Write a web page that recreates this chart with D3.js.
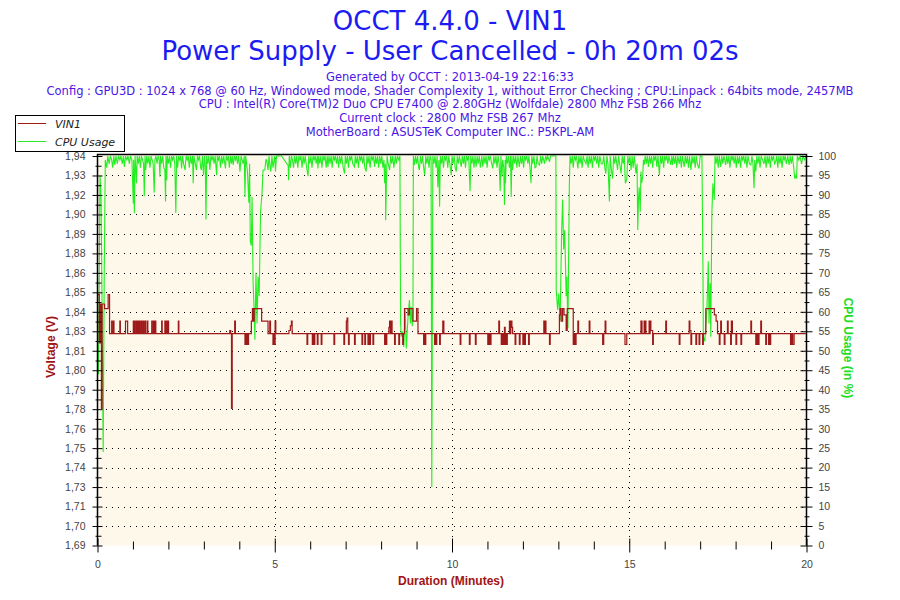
<!DOCTYPE html>
<html>
<head>
<meta charset="utf-8">
<script src="https://cdn.jsdelivr.net/npm/d3@7/dist/d3.min.js"></script>
<style>
  body { margin: 0; background: #ffffff; }
  svg { display: block; }
</style>
</head>
<body>
<svg id="chart" width="900" height="600"></svg>
<script>
/* ----------------------------- chart data ------------------------------ */

const titleLines = ['OCCT 4.4.0 - VIN1', 'Power Supply - User Cancelled - 0h 20m 02s'];

const infoLines = [
  'Generated by OCCT : 2013-04-19 22:16:33',
  'Config : GPU3D : 1024 x 768 @ 60 Hz, Windowed mode, Shader Complexity 1, without Error Checking ; CPU:Linpack : 64bits mode, 2457MB',
  'CPU : Intel(R) Core(TM)2 Duo CPU E7400 @ 2.80GHz (Wolfdale) 2800 Mhz FSB 266 Mhz',
  'Current clock : 2800 Mhz FSB 267 Mhz',
  'MotherBoard : ASUSTeK Computer INC.: P5KPL-AM',
];

const seriesNames = ['VIN1', 'CPU Usage'];

const minuteTicks = [0, 5, 10, 15, 20];
const minuteMinorTicks = [1, 2, 3, 4, 6, 7, 8, 9, 11, 12, 13, 14, 16, 17, 18, 19];

const voltTickLabels = ['1,69', '1,70', '1,71', '1,73', '1,74', '1,75', '1,76', '1,78', '1,79', '1,80', '1,81',
  '1,83', '1,84', '1,85', '1,86', '1,88', '1,89', '1,90', '1,92', '1,93', '1,94'];

const cpuTicks = [0, 5, 10, 15, 20, 25, 30, 35, 40, 45, 50, 55, 60, 65, 70, 75, 80, 85, 90, 95, 100];

// [minute, CPU usage %]
const cpuUsage = [
  [0.00, 52], [0.03, 44], [0.07, 95], [0.10, 90], [0.13, 60], [0.16, 24], [0.19, 70], [0.22, 99],
  [0.26, 97], [0.29, 100], [0.33, 98], [0.36, 100], [0.40, 99], [0.43, 97], [0.46, 100], [0.49, 97.7],
  [0.52, 100], [0.56, 98], [0.59, 100], [0.63, 99], [0.66, 100], [0.70, 98], [0.73, 100], [0.76, 97.2],
  [0.79, 100], [0.83, 99], [0.86, 100], [0.90, 98], [0.93, 100], [0.97, 99], [1.01, 87.8], [1.02, 99],
  [1.04, 85.3], [1.06, 100], [1.08, 97], [1.10, 93], [1.12, 100], [1.15, 98], [1.18, 100], [1.21, 97],
  [1.24, 100], [1.27, 99], [1.30, 98], [1.32, 89.7], [1.34, 100], [1.36, 96.4], [1.39, 100], [1.42, 98],
  [1.45, 100], [1.48, 97], [1.51, 100], [1.54, 99], [1.57, 98], [1.60, 90.6], [1.62, 99], [1.65, 100],
  [1.68, 98], [1.71, 100], [1.74, 99], [1.76, 94.7], [1.78, 100], [1.81, 98], [1.84, 100], [1.87, 97],
  [1.90, 96.4], [1.92, 88.3], [1.93, 100], [1.95, 93.8], [1.97, 100], [2.00, 98], [2.03, 100], [2.06, 97],
  [2.09, 100], [2.12, 99], [2.15, 100], [2.18, 98], [2.21, 85.4], [2.23, 100], [2.26, 97], [2.29, 100],
  [2.32, 99], [2.35, 100], [2.37, 96.8], [2.40, 100], [2.43, 98], [2.47, 96.4], [2.50, 100], [2.53, 99],
  [2.56, 100], [2.59, 97], [2.62, 100], [2.65, 98], [2.68, 100], [2.70, 93], [2.72, 100], [2.76, 98],
  [2.79, 96.4], [2.82, 100], [2.85, 99], [2.88, 100], [2.91, 97], [2.93, 96.4], [2.96, 100], [2.99, 95.1],
  [3.02, 100], [3.04, 98], [3.06, 83.7], [3.08, 100], [3.11, 98], [3.14, 100], [3.17, 96.4], [3.20, 100],
  [3.23, 99], [3.26, 100], [3.29, 98], [3.32, 100], [3.36, 95.1], [3.38, 100], [3.41, 99], [3.44, 100],
  [3.47, 97], [3.50, 100], [3.53, 98], [3.56, 100], [3.61, 96.8], [3.63, 100], [3.66, 99], [3.69, 100],
  [3.72, 97], [3.75, 100], [3.78, 98], [3.80, 100], [3.83, 97.7], [3.86, 100], [3.89, 99], [3.92, 100],
  [3.95, 98], [3.98, 100], [4.02, 96], [4.05, 100], [4.08, 99], [4.11, 98], [4.14, 100], [4.16, 89.5],
  [4.18, 100], [4.20, 98.5], [4.23, 96], [4.27, 88], [4.29, 98], [4.31, 78], [4.34, 77], [4.36, 89.5],
  [4.39, 67.3], [4.42, 60], [4.44, 52.8], [4.47, 70], [4.50, 57], [4.53, 69], [4.56, 64], [4.60, 85.7],
  [4.64, 90.4], [4.67, 96.4], [4.72, 96.4], [4.75, 99], [4.77, 99], [4.81, 96.4], [4.84, 100], [4.86, 98],
  [4.89, 96], [4.92, 100], [4.95, 97], [5.00, 100],
  [5.02, 96], [5.05, 100], [5.10, 100], [5.19, 100], [5.38, 97.5], [5.39, 93.8], [5.41, 100], [5.44, 97],
  [5.47, 100], [5.50, 99], [5.53, 97], [5.56, 100], [5.59, 98], [5.62, 100], [5.65, 97], [5.68, 100],
  [5.71, 99], [5.74, 100], [5.77, 97], [5.80, 100], [5.83, 98], [5.86, 100], [5.90, 97], [5.94, 94.8],
  [5.96, 100], [5.99, 98], [6.02, 100], [6.05, 97], [6.08, 100], [6.11, 99], [6.14, 100], [6.17, 98],
  [6.20, 100], [6.22, 96.8], [6.24, 100], [6.27, 98], [6.30, 100], [6.33, 97], [6.36, 100], [6.39, 99],
  [6.42, 100], [6.45, 97], [6.48, 100], [6.50, 97.2], [6.53, 100], [6.56, 98], [6.59, 100], [6.62, 97],
  [6.65, 100], [6.68, 99], [6.71, 100], [6.74, 98], [6.77, 100], [6.80, 97], [6.83, 100], [6.86, 98],
  [6.89, 100], [6.93, 97], [6.97, 95.5], [6.99, 100], [7.02, 98], [7.05, 100], [7.08, 97], [7.11, 100],
  [7.14, 99], [7.17, 100], [7.20, 98], [7.25, 97.2], [7.27, 100], [7.30, 98], [7.33, 100], [7.36, 97],
  [7.39, 100], [7.42, 99], [7.45, 100], [7.48, 98], [7.51, 100], [7.54, 97], [7.58, 96], [7.60, 100],
  [7.63, 98], [7.66, 100], [7.69, 97], [7.72, 100], [7.75, 99], [7.78, 100], [7.82, 97.2], [7.84, 100],
  [7.87, 98], [7.90, 100], [7.93, 97], [7.96, 100], [7.99, 98], [8.02, 100], [8.05, 97], [8.08, 99],
  [8.10, 93], [8.12, 98], [8.13, 83.5], [8.15, 94], [8.17, 100], [8.20, 98], [8.24, 96.4], [8.27, 100],
  [8.30, 98], [8.33, 100], [8.36, 97], [8.40, 100], [8.43, 98], [8.46, 100], [8.50, 99], [8.53, 100],
  [8.55, 57], [8.57, 53.6], [8.60, 55], [8.62, 53.6], [8.64, 51], [8.68, 60.5], [8.71, 50.6], [8.76, 58.7],
  [8.80, 63], [8.83, 57], [8.85, 61.3], [8.88, 56.3], [8.90, 62], [8.91, 100], [8.94, 97.7], [8.97, 100],
  [9.00, 98], [9.03, 100], [9.06, 97], [9.08, 96.4], [9.11, 100], [9.14, 98], [9.17, 100], [9.20, 97],
  [9.23, 95.1], [9.26, 100], [9.29, 98], [9.32, 100], [9.35, 97], [9.38, 100], [9.41, 99], [9.43, 15],
  [9.46, 100], [9.49, 98], [9.52, 100], [9.55, 97], [9.58, 100], [9.60, 92], [9.62, 96.4], [9.63, 99],
  [9.65, 87], [9.67, 100], [9.70, 98], [9.73, 100], [9.76, 97], [9.79, 100], [9.82, 99], [9.85, 100],
  [9.88, 97], [9.91, 100], [9.94, 98], [9.98, 95.1], [10.00, 100],
  [10.03, 98], [10.06, 100], [10.09, 97], [10.12, 96], [10.15, 100], [10.18, 98], [10.21, 100], [10.26, 97.2],
  [10.29, 100], [10.32, 98], [10.35, 100], [10.38, 97], [10.41, 100], [10.44, 99], [10.47, 100], [10.51, 91],
  [10.53, 100], [10.56, 98], [10.59, 100], [10.62, 97], [10.65, 100], [10.68, 97.2], [10.71, 100], [10.74, 98],
  [10.77, 100], [10.80, 97], [10.84, 100], [10.87, 97.2], [10.90, 100], [10.93, 98], [10.96, 100], [10.99, 97],
  [11.02, 100], [11.05, 99], [11.08, 100], [11.12, 98], [11.15, 96.8], [11.18, 100], [11.21, 98], [11.24, 100],
  [11.27, 97], [11.30, 100], [11.33, 98], [11.36, 91], [11.38, 100], [11.41, 94.7], [11.43, 99], [11.46, 97],
  [11.48, 87.4], [11.50, 99], [11.51, 93], [11.53, 100], [11.56, 98], [11.59, 100], [11.62, 97], [11.65, 100],
  [11.67, 89.5], [11.69, 100], [11.71, 96.4], [11.74, 100], [11.77, 98], [11.80, 100], [11.83, 97], [11.86, 100],
  [11.90, 97.2], [11.93, 100], [11.96, 98], [11.99, 100], [12.02, 97], [12.05, 100], [12.08, 99], [12.11, 100],
  [12.14, 98], [12.17, 100], [12.20, 97], [12.23, 93], [12.25, 100], [12.28, 98], [12.31, 100], [12.34, 97],
  [12.37, 97.2], [12.40, 100], [12.43, 98], [12.47, 97.7], [12.50, 100], [12.53, 98], [12.56, 100], [12.61, 98],
  [12.64, 100], [12.67, 99], [12.70, 100], [12.75, 98.5], [12.78, 100], [12.82, 100], [12.88, 100], [12.93, 100],
  [12.94, 65.6], [12.98, 60.5], [13.01, 64.7], [13.05, 57.8], [13.09, 79.3], [13.12, 88.8], [13.15, 76], [13.18, 81],
  [13.22, 64], [13.24, 69], [13.27, 55.8], [13.31, 92.5], [13.33, 100], [13.36, 98], [13.39, 100], [13.42, 97],
  [13.45, 100], [13.48, 99], [13.51, 100], [13.55, 96.8], [13.58, 100], [13.61, 98], [13.64, 100], [13.67, 97],
  [13.70, 100], [13.73, 99], [13.78, 98], [13.81, 100], [13.84, 97], [13.87, 100], [13.90, 98], [13.93, 100],
  [13.96, 97], [13.99, 100], [14.02, 99], [14.05, 100], [14.08, 98], [14.11, 100], [14.14, 97], [14.17, 100],
  [14.21, 98], [14.25, 98], [14.28, 100], [14.31, 97], [14.34, 95.5], [14.37, 100], [14.40, 98], [14.44, 88.3],
  [14.46, 100], [14.49, 97], [14.53, 94.2], [14.56, 100], [14.59, 98], [14.62, 100], [14.67, 96.4], [14.70, 100],
  [14.73, 98], [14.77, 95.5], [14.80, 100], [14.83, 98], [14.86, 100],
  [14.89, 93], [14.93, 94], [14.96, 100], [14.99, 98], [15.02, 100], [15.05, 96.4], [15.08, 100], [15.11, 97],
  [15.14, 100], [15.19, 95.5], [15.22, 98], [15.24, 81], [15.26, 88.8], [15.28, 92], [15.31, 85.7], [15.33, 96],
  [15.35, 93], [15.38, 94.7], [15.40, 99], [15.42, 97.7], [15.45, 100], [15.48, 98], [15.51, 100], [15.54, 97.2],
  [15.57, 100], [15.60, 98], [15.63, 100], [15.66, 97], [15.69, 100], [15.72, 99], [15.75, 100], [15.78, 97.2],
  [15.81, 100], [15.85, 95.1], [15.88, 100], [15.91, 98], [15.94, 100], [15.97, 97], [16.00, 100], [16.03, 99],
  [16.06, 100], [16.09, 98], [16.12, 100], [16.17, 97.7], [16.20, 100], [16.22, 97.7], [16.25, 100], [16.28, 98],
  [16.31, 100], [16.34, 97], [16.37, 100], [16.41, 98], [16.44, 100], [16.47, 97], [16.50, 100], [16.55, 97.2],
  [16.58, 100], [16.61, 98], [16.64, 100], [16.67, 97], [16.70, 100], [16.74, 96.4], [16.77, 100], [16.80, 98],
  [16.83, 100], [16.86, 97], [16.89, 100], [16.92, 98], [16.97, 96.8], [17.00, 100], [17.05, 100], [17.08, 70.3],
  [17.09, 53.6], [17.13, 52.4], [17.19, 60.5], [17.23, 73], [17.25, 57], [17.28, 67.3], [17.30, 53.6], [17.33, 85.3],
  [17.36, 93], [17.40, 88.8], [17.42, 100], [17.45, 98], [17.48, 100], [17.51, 97], [17.54, 100], [17.58, 97.2],
  [17.61, 100], [17.64, 98], [17.67, 100], [17.72, 97.7], [17.75, 100], [17.78, 98], [17.81, 100], [17.84, 97],
  [17.87, 100], [17.90, 99], [17.93, 100], [17.96, 98], [17.99, 100], [18.02, 97], [18.05, 100], [18.08, 98],
  [18.11, 100], [18.14, 97], [18.17, 100], [18.20, 99], [18.23, 100], [18.26, 98], [18.29, 100], [18.32, 97],
  [18.35, 100], [18.39, 98], [18.43, 97.7], [18.46, 100], [18.49, 98], [18.52, 91.7], [18.54, 99], [18.57, 96],
  [18.60, 100], [18.63, 98], [18.66, 100], [18.69, 97], [18.72, 100], [18.76, 99], [18.80, 98], [18.83, 100],
  [18.86, 97], [18.89, 100], [18.92, 98], [18.95, 100], [18.98, 97], [19.01, 100], [19.04, 99], [19.07, 100],
  [19.10, 98], [19.13, 98.5], [19.16, 100], [19.19, 97], [19.22, 100], [19.25, 98], [19.28, 100], [19.31, 97],
  [19.34, 100], [19.37, 99], [19.40, 100], [19.43, 98], [19.47, 100], [19.51, 97.7], [19.54, 100], [19.57, 98],
  [19.60, 100], [19.64, 97], [19.67, 94.2], [19.70, 95], [19.72, 94.2], [19.74, 100], [19.78, 99], [19.82, 100],
  [19.86, 98], [19.90, 100], [19.95, 99], [19.98, 100],
];

// [minute, VIN1 volts], each value holds until the next reading
const vin1 = [
  [0.00, 1.851], [0.05, 1.820], [0.08, 1.845], [0.11, 1.778], [0.13, 1.845], [0.20, 1.842], [0.30, 1.851], [0.34, 1.826],
  [0.40, 1.834], [0.415, 1.826], [0.45, 1.834], [0.465, 1.826], [0.63, 1.834], [0.645, 1.826], [0.79, 1.834], [0.85, 1.826],
  [1.01, 1.834], [1.025, 1.826], [1.05, 1.834], [1.065, 1.826], [1.10, 1.834], [1.12, 1.826], [1.15, 1.834], [1.165, 1.826],
  [1.19, 1.834], [1.205, 1.826], [1.24, 1.834], [1.255, 1.826], [1.29, 1.834], [1.305, 1.826], [1.34, 1.834], [1.355, 1.826],
  [1.40, 1.834], [1.42, 1.826], [1.53, 1.834], [1.545, 1.826], [1.58, 1.834], [1.60, 1.826], [1.63, 1.834], [1.645, 1.826],
  [1.81, 1.834], [1.825, 1.826], [1.90, 1.834], [1.915, 1.826], [1.95, 1.834], [1.965, 1.826], [1.99, 1.834], [2.005, 1.826],
  [2.28, 1.834], [2.295, 1.826],
  [3.73, 1.828], [3.76, 1.826], [3.78, 1.778], [3.80, 1.826], [3.87, 1.834], [3.89, 1.826], [4.16, 1.819], [4.18, 1.826],
  [4.20, 1.819], [4.22, 1.826], [4.24, 1.819], [4.26, 1.826], [4.34, 1.834], [4.37, 1.842], [4.40, 1.834], [4.42, 1.842],
  [4.63, 1.834], [4.81, 1.826], [4.86, 1.834], [4.88, 1.826], [4.95, 1.819], [4.97, 1.826], [4.99, 1.819], [5.01, 1.834],
  [5.03, 1.826], [5.40, 1.828], [5.44, 1.831], [5.47, 1.834], [5.49, 1.826],
  [5.91, 1.819], [5.93, 1.826], [6.06, 1.819], [6.08, 1.826], [6.11, 1.819], [6.13, 1.826], [6.20, 1.819], [6.22, 1.826],
  [6.31, 1.819], [6.33, 1.826], [6.67, 1.819], [6.69, 1.826], [6.95, 1.819], [6.97, 1.826], [7.02, 1.834], [7.04, 1.836],
  [7.06, 1.826], [7.08, 1.819], [7.10, 1.826], [7.25, 1.819], [7.27, 1.826], [7.46, 1.819], [7.48, 1.826], [7.54, 1.819],
  [7.56, 1.826], [7.63, 1.819], [7.65, 1.826], [7.67, 1.819], [7.70, 1.826], [7.77, 1.819], [7.79, 1.826], [8.10, 1.819],
  [8.12, 1.826], [8.14, 1.819], [8.16, 1.826], [8.22, 1.830], [8.24, 1.834], [8.26, 1.826], [8.29, 1.834], [8.31, 1.826],
  [8.38, 1.819], [8.40, 1.826], [8.50, 1.819], [8.52, 1.826], [8.61, 1.819], [8.63, 1.826], [8.66, 1.842], [8.76, 1.838],
  [8.80, 1.842], [8.90, 1.834], [9.00, 1.842], [9.04, 1.826], [9.20, 1.819], [9.22, 1.826], [9.24, 1.819], [9.26, 1.826],
  [9.51, 1.819], [9.53, 1.826], [9.55, 1.819], [9.57, 1.826], [9.65, 1.819], [9.67, 1.826], [9.74, 1.834], [9.77, 1.826],
  [10.23, 1.819], [10.25, 1.826], [10.49, 1.819], [10.51, 1.826], [10.66, 1.819], [10.68, 1.826], [11.01, 1.819], [11.03, 1.826],
  [11.05, 1.819], [11.07, 1.826], [11.08, 1.819], [11.10, 1.826], [11.32, 1.834], [11.34, 1.826], [11.39, 1.819], [11.41, 1.826],
  [11.42, 1.819], [11.44, 1.826], [11.46, 1.819], [11.48, 1.830], [11.50, 1.819], [11.52, 1.826], [11.54, 1.819], [11.56, 1.826],
  [11.62, 1.834], [11.64, 1.826], [11.66, 1.834], [11.69, 1.830], [11.71, 1.826], [11.78, 1.819], [11.80, 1.826], [11.90, 1.819],
  [11.92, 1.826], [12.00, 1.819], [12.02, 1.826], [12.05, 1.819], [12.07, 1.826], [12.16, 1.819], [12.18, 1.826], [12.59, 1.834],
  [12.61, 1.826], [12.63, 1.834], [12.65, 1.826], [12.75, 1.819], [12.77, 1.826], [13.03, 1.838], [13.05, 1.842], [13.08, 1.834],
  [13.12, 1.842], [13.16, 1.838], [13.22, 1.828], [13.25, 1.842], [13.42, 1.819], [13.45, 1.826], [13.48, 1.819], [13.50, 1.826],
  [13.55, 1.834], [13.57, 1.826], [13.87, 1.834], [13.89, 1.826], [14.25, 1.819], [14.28, 1.826], [14.32, 1.834], [14.34, 1.826],
  [14.88, 1.819], [14.93, 1.826],
  [15.33, 1.834], [15.36, 1.826], [15.42, 1.834], [15.44, 1.826], [15.45, 1.834], [15.47, 1.826], [15.56, 1.834], [15.58, 1.826],
  [15.59, 1.834], [15.61, 1.828], [15.66, 1.819], [15.68, 1.826], [16.03, 1.834], [16.05, 1.826], [16.41, 1.819], [16.43, 1.826],
  [16.69, 1.834], [16.71, 1.828], [16.74, 1.819], [16.76, 1.826], [16.88, 1.819], [16.90, 1.826], [16.97, 1.819], [16.99, 1.826],
  [17.07, 1.819], [17.09, 1.826], [17.16, 1.842], [17.40, 1.838], [17.45, 1.834], [17.49, 1.826], [17.54, 1.819], [17.56, 1.826],
  [17.58, 1.834], [17.60, 1.826], [17.68, 1.819], [17.70, 1.826], [17.77, 1.834], [17.79, 1.826], [17.86, 1.819], [17.88, 1.834],
  [17.91, 1.826], [18.01, 1.819], [18.03, 1.826], [18.15, 1.819], [18.17, 1.826], [18.43, 1.834], [18.45, 1.826], [18.57, 1.819],
  [18.59, 1.826], [18.61, 1.819], [18.63, 1.826], [18.64, 1.819], [18.66, 1.826], [18.71, 1.834], [18.73, 1.826], [18.85, 1.819],
  [18.87, 1.826], [18.93, 1.819], [18.95, 1.826], [18.97, 1.819], [18.99, 1.826], [19.55, 1.819], [19.58, 1.826], [19.61, 1.819],
  [19.65, 1.826], [19.98, 1.826],
];

/* ------------------------------- layout -------------------------------- */

const plot = { left: 97.5, right: 806.5, top: 156, bottom: 545.5, frameTop: 154.5 };

const colors = {
  title: '#1b1bf2',
  info: '#4a14e6',
  vin: '#9e1a1a',
  cpu: '#22ee22',
  cpuTitle: '#22dd22',
  voltTitle: '#a01414',
  plotBg: '#fdf8ea',
  tickText: '#444444',
};

const svg = d3.select('#chart');

const x = d3.scaleLinear().domain([0, 20]).range([plot.left, plot.right]);
const yCpu = d3.scaleLinear().domain([0, 100]).range([plot.bottom, plot.top]);
const yVolt = d3.scaleLinear().domain([1.69, 1.94]).range([plot.bottom, plot.top]);

// volt ticks sit on the same 21 rows as the CPU ticks
const voltTicks = voltTickLabels.map((_, i) => 1.69 + i * 0.0125);

/* ------------------------------- titles -------------------------------- */

svg.selectAll('.title')
  .data(titleLines)
  .enter()
  .append('text')
  .attr('class', 'title')
  .attr('x', 450)
  .attr('y', (d, i) => 30 + i * 30)
  .attr('text-anchor', 'middle')
  .style('font-family', 'DejaVu Sans, Verdana, sans-serif')
  .style('font-size', '26px')
  .style('fill', colors.title)
  .text((d) => d);

svg.selectAll('.info')
  .data(infoLines)
  .enter()
  .append('text')
  .attr('class', 'info')
  .attr('x', 450)
  .attr('y', (d, i) => 81 + i * 13.7)
  .attr('text-anchor', 'middle')
  .style('font-family', 'DejaVu Sans, Verdana, sans-serif')
  .style('font-size', '11.5px')
  .style('fill', colors.info)
  .text((d) => d);

/* ----------------------------- plot frame ------------------------------ */

svg.append('rect')
  .attr('x', plot.left)
  .attr('y', plot.frameTop)
  .attr('width', plot.right - plot.left)
  .attr('height', plot.bottom - plot.frameTop)
  .style('fill', colors.plotBg);

const grid = svg.append('g')
  .style('stroke', '#000')
  .style('stroke-width', 1)
  .style('stroke-dasharray', '1,5')
  .style('shape-rendering', 'crispEdges');

grid.selectAll('.hgrid')
  .data(cpuTicks.filter((d) => d > 0 && d < 100))
  .enter()
  .append('line')
  .attr('x1', plot.left + 8)
  .attr('x2', plot.right - 4)
  .attr('y1', (d) => Math.round(yCpu(d)) + 0.5)
  .attr('y2', (d) => Math.round(yCpu(d)) + 0.5);

grid.selectAll('.vgrid')
  .data(minuteTicks.filter((d) => d > 0 && d < 20))
  .enter()
  .append('line')
  .attr('x1', (d) => Math.round(x(d)) + 0.5)
  .attr('x2', (d) => Math.round(x(d)) + 0.5)
  .attr('y1', plot.frameTop + 3)
  .attr('y2', plot.bottom);

/* -------------------------------- lines -------------------------------- */

const cpuLine = d3.line()
  .x((d) => x(d[0]))
  .y((d) => yCpu(d[1]));

const vinLine = d3.line()
  .curve(d3.curveStepAfter)
  .x((d) => x(d[0]))
  .y((d) => yVolt(d[1]));

svg.append('path')
  .datum(cpuUsage)
  .attr('d', cpuLine)
  .style('fill', 'none')
  .style('stroke', colors.cpu)
  .style('stroke-width', 1.1);

svg.append('path')
  .datum(vin1)
  .attr('d', vinLine)
  .style('fill', 'none')
  .style('stroke', colors.vin)
  .style('stroke-width', 1.2);

svg.append('path')
  .attr('d', `M${plot.left},${plot.bottom}V${plot.frameTop}H${plot.right}V${plot.bottom}`)
  .style('fill', 'none')
  .style('stroke', '#000')
  .style('stroke-width', 1.5);

/* -------------------------------- axes --------------------------------- */

const styleAxis = (g) => {
  g.select('.domain').remove();
  g.selectAll('.tick line').style('stroke', '#000');
  g.selectAll('.tick text')
    .style('font-family', 'Liberation Sans, Arial, sans-serif')
    .style('font-size', '10.5px')
    .style('fill', colors.tickText);
};

const midTicks = (ticks) => ticks.slice(1).map((d, i) => (d + ticks[i]) / 2);

// left: voltage
svg.append('g')
  .attr('transform', `translate(${plot.left},0)`)
  .call(d3.axisLeft(yVolt).tickValues(voltTicks).tickFormat((d, i) => voltTickLabels[i]).tickSize(5).tickPadding(7))
  .call(styleAxis)
  .call((g) => g.selectAll('.tick line').attr('x1', 5).attr('x2', -5));

svg.append('g')
  .attr('transform', `translate(${plot.left},0)`)
  .call(d3.axisLeft(yVolt).tickValues(midTicks(voltTicks)).tickFormat('').tickSize(3))
  .call(styleAxis)
  .call((g) => g.selectAll('.tick line').attr('x1', 4).attr('x2', -2));

// right: CPU usage
svg.append('g')
  .attr('transform', `translate(${plot.right},0)`)
  .call(d3.axisRight(yCpu).tickValues(cpuTicks).tickSize(6).tickPadding(6))
  .call(styleAxis)
  .call((g) => g.selectAll('.tick line').attr('x1', -6).attr('x2', 6));

svg.append('g')
  .attr('transform', `translate(${plot.right},0)`)
  .call(d3.axisRight(yCpu).tickValues(midTicks(cpuTicks)).tickFormat('').tickSize(3))
  .call(styleAxis)
  .call((g) => g.selectAll('.tick line').attr('x1', -2).attr('x2', 3));

// bottom: duration
svg.append('g')
  .attr('transform', `translate(0,${plot.bottom})`)
  .call(d3.axisBottom(x).tickValues(minuteTicks).tickSize(7).tickPadding(8))
  .call(styleAxis)
  .call((g) => g.selectAll('.tick line').attr('y1', -7).attr('y2', 7));

svg.append('g')
  .attr('transform', `translate(0,${plot.bottom})`)
  .call(d3.axisBottom(x).tickValues(minuteMinorTicks).tickFormat('').tickSize(4))
  .call(styleAxis)
  .call((g) => g.selectAll('.tick line').attr('y1', -4).attr('y2', 4));

/* ---------------------------- axis titles ------------------------------ */

const axisTitle = (text, color, xPos, yPos, rotate) =>
  svg.append('text')
    .attr('transform', `translate(${xPos},${yPos}) rotate(${rotate})`)
    .attr('text-anchor', 'middle')
    .style('font-family', 'Liberation Sans, Arial, sans-serif')
    .style('font-weight', 'bold')
    .style('font-size', '12px')
    .style('fill', color)
    .text(text);

axisTitle('Voltage (V)', colors.voltTitle, 55, 347, -90);
axisTitle('CPU Usage (in %)', colors.cpuTitle, 844, 348, 90);
axisTitle('Duration (Minutes)', colors.voltTitle, 451, 585, 0);

/* ------------------------------- legend -------------------------------- */

const legend = svg.append('g');

legend.append('rect')
  .attr('x', 15.5)
  .attr('y', 115.5)
  .attr('width', 109)
  .attr('height', 36)
  .style('fill', '#fff')
  .style('stroke', '#000');

const legendItem = legend.selectAll('.legend-item')
  .data(seriesNames)
  .enter()
  .append('g')
  .attr('transform', (d, i) => `translate(0,${123.5 + i * 18})`);

legendItem.append('line')
  .attr('x1', 18)
  .attr('x2', 46)
  .style('stroke', (d, i) => (i === 0 ? colors.vin : colors.cpu))
  .style('stroke-width', 1);

legendItem.append('text')
  .attr('x', 55)
  .attr('y', 4)
  .style('font-family', 'DejaVu Sans, Verdana, sans-serif')
  .style('font-style', 'italic')
  .style('font-size', '11px')
  .style('fill', '#222')
  .text((d) => d);
</script>
</body>
</html>
